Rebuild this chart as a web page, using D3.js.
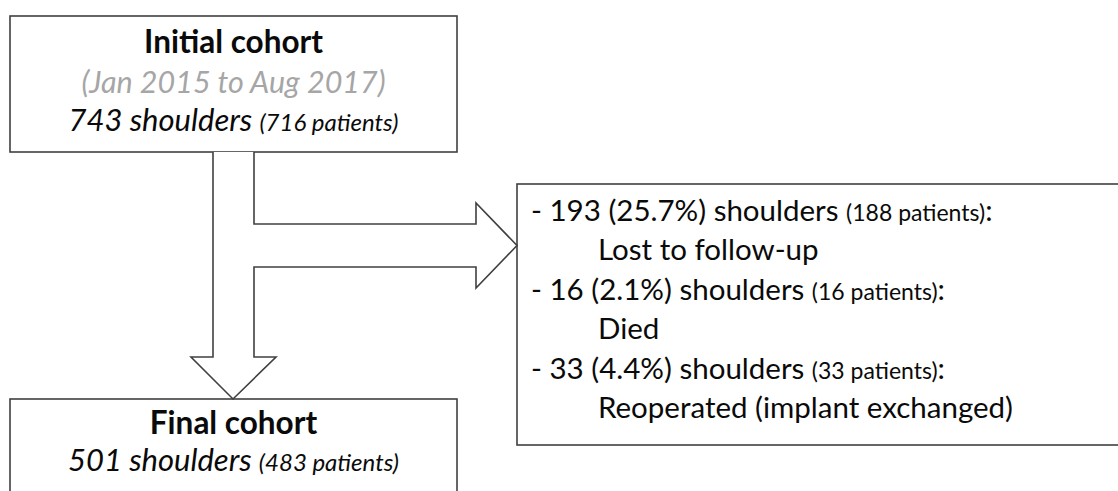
<!DOCTYPE html>
<html>
<head>
<meta charset="utf-8">
<script src="https://cdn.jsdelivr.net/npm/d3@7"></script>
<style>
  html, body { margin: 0; padding: 0; background: #fff; }
  svg { display: block; font-family: Lato, "Open Sans", sans-serif; }
</style>
</head>
<body>
<div id="root"></div>
<script>
// cohort numbers
const cohortTitles = ["Initial cohort", "Final cohort"];
const cohortShoulders = [743, 501];
const cohortPatients = [716, 483];
const studyPeriod = "(Jan 2015 to Aug 2017)";

// exclusions
const exclusionShoulders = [193, 16, 33];
const exclusionPercent = ["25.7%", "2.1%", "4.4%"];
const exclusionPatients = [188, 16, 33];
const exclusionReasons = ["Lost to follow-up", "Died", "Reoperated (implant exchanged)"];

const w = 1118, h = 491;
const stroke = "#404040";
const ink = "#0a0a0a";

const svg = d3.select("#root")
  .append("svg")
    .attr("width", w)
    .attr("height", h);

// box layout
const topBox = { x: 10, y: 16, w: 447, h: 136 };
const bottomBox = { x: 10, y: 399, w: 447, h: 110 };
const sideBox = { x: 517, y: 184, w: 620, h: 261 };

[topBox, bottomBox, sideBox].forEach(b => {
  svg.append("rect")
    .attr("x", b.x).attr("y", b.y)
    .attr("width", b.w).attr("height", b.h)
    .attr("fill", "#fff")
    .attr("stroke", stroke)
    .attr("stroke-width", 1.6);
});

// block arrows (down + branch right)
const shaftL = 213, shaftR = 254;
const branchTop = 224, branchBot = 267, headTop = 203, headBot = 288, headX = 476;
const downHeadY = 357, downHeadL = 191, downHeadR = 276;
const cx = (topBox.x + topBox.w / 2);
const midY = (branchTop + branchBot) / 2;

const pts = [
  [shaftR, topBox.y + topBox.h],
  [shaftR, branchTop],
  [headX, branchTop],
  [headX, headTop],
  [sideBox.x, midY],
  [headX, headBot],
  [headX, branchBot],
  [shaftR, branchBot],
  [shaftR, downHeadY],
  [downHeadR, downHeadY],
  [cx - 0.5, bottomBox.y],
  [downHeadL, downHeadY],
  [shaftL, downHeadY],
  [shaftL, topBox.y + topBox.h]
];

svg.append("path")
  .attr("d", "M" + pts.map(p => p.join(",")).join("L") + "Z")
  .attr("fill", "#fff")
  .attr("stroke", "none");

svg.append("path")
  .attr("d", d3.line()(pts))
  .attr("fill", "none")
  .attr("stroke", stroke)
  .attr("stroke-width", 1.6)
  .attr("stroke-linejoin", "miter");

// initial cohort text
svg.append("text")
  .attr("x", cx).attr("y", 53)
  .attr("text-anchor", "middle")
  .style("font-weight", "bold")
  .style("font-size", "31.5px")
  .attr("fill", ink)
  .text(cohortTitles[0]);

svg.append("text")
  .attr("x", cx).attr("y", 93)
  .attr("text-anchor", "middle")
  .style("font-style", "italic")
  .style("font-size", "30.5px")
  .attr("fill", "#a6a6a6")
  .text(studyPeriod);

let n1 = svg.append("text")
  .attr("x", cx).attr("y", 131)
  .attr("text-anchor", "middle")
  .style("font-style", "italic")
  .attr("fill", ink);
n1.append("tspan").style("font-size", "31px").text(cohortShoulders[0] + " shoulders ");
n1.append("tspan").style("font-size", "24px").text("(" + cohortPatients[0] + " patients)");

// final cohort text
svg.append("text")
  .attr("x", cx).attr("y", 434)
  .attr("text-anchor", "middle")
  .style("font-weight", "bold")
  .style("font-size", "31.5px")
  .attr("fill", ink)
  .text(cohortTitles[1]);

let n2 = svg.append("text")
  .attr("x", cx).attr("y", 471)
  .attr("text-anchor", "middle")
  .style("font-style", "italic")
  .attr("fill", ink);
n2.append("tspan").style("font-size", "31px").text(cohortShoulders[1] + " shoulders ");
n2.append("tspan").style("font-size", "24px").text("(" + cohortPatients[1] + " patients)");

// exclusion list
const lineY = d3.scaleLinear().domain([0, 1]).range([220.5, 260]);

exclusionShoulders.forEach((s, i) => {
  let row = svg.append("text")
    .attr("x", 531)
    .attr("y", lineY(i * 2))
    .attr("fill", ink)
    .style("font-size", "29.5px");
  row.append("tspan").text("- " + s + " (" + exclusionPercent[i] + ") shoulders ");
  row.append("tspan").style("font-size", "23px").text("(" + exclusionPatients[i] + " patients)");
  row.append("tspan").text(":");

  svg.append("text")
    .attr("x", 598)
    .attr("y", lineY(i * 2 + 1))
    .attr("fill", ink)
    .style("font-size", "29.5px")
    .text(exclusionReasons[i]);
});
</script>
</body>
</html>
